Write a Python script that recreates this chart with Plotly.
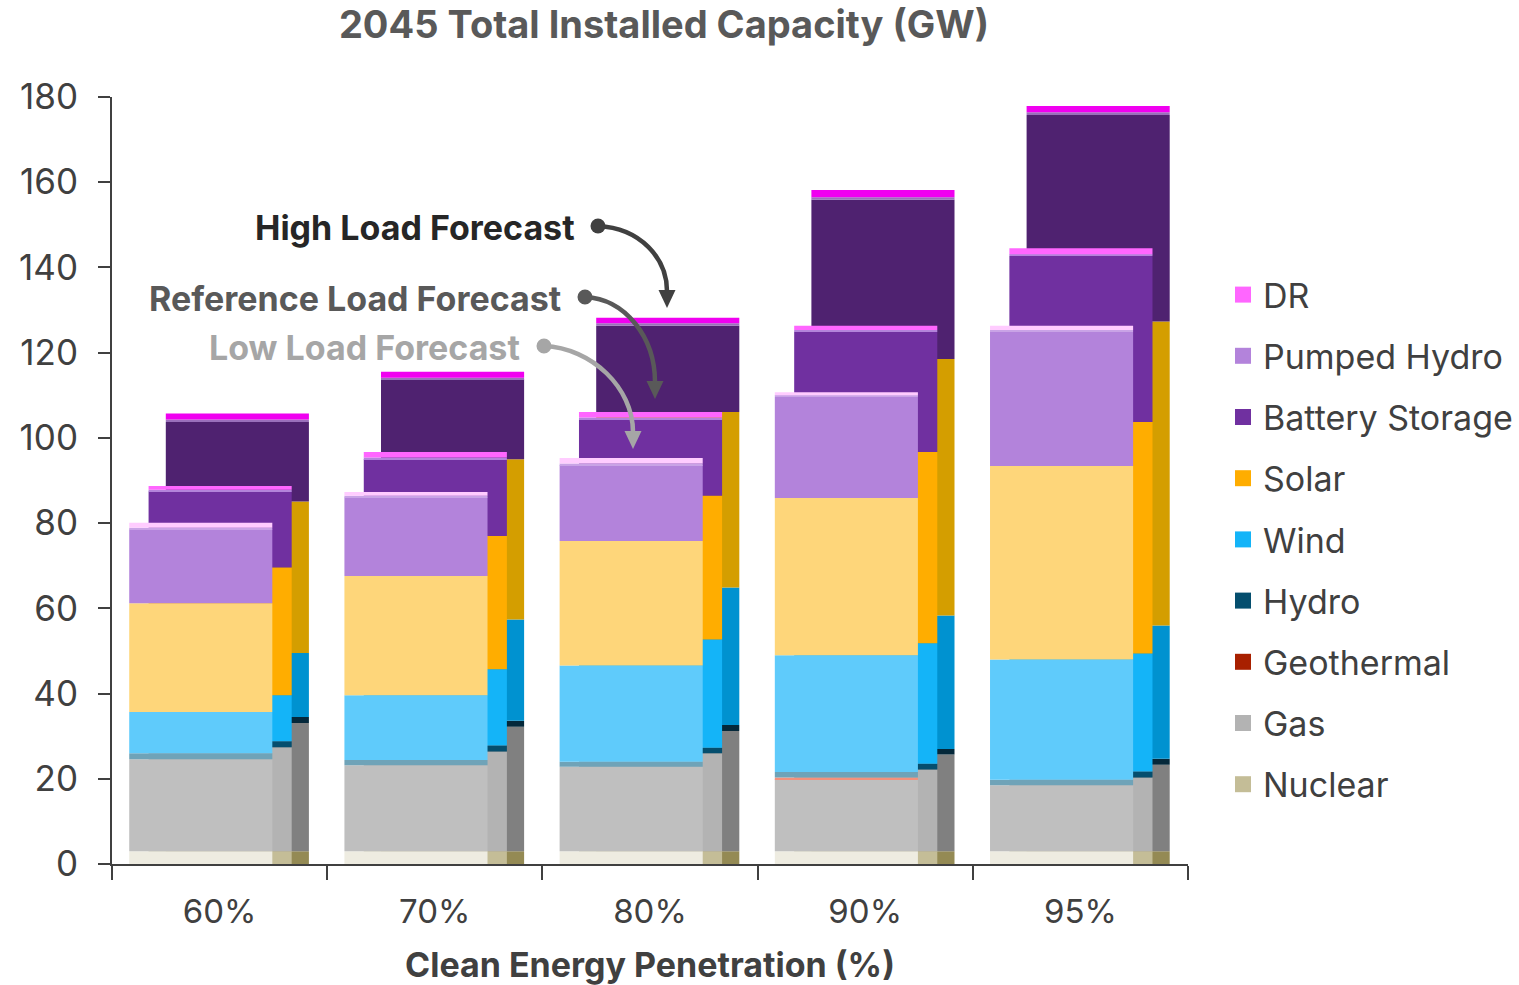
import plotly.graph_objects as go

categories = ["60%", "70%", "80%", "90%", "95%"]
x_pos = [0, 1, 2, 3, 4]
y_ticks = [0, 20, 40, 60, 80, 100, 120, 140, 160, 180]

# ---- Low load forecast (GW) ----
nuclear_low = [3.0, 3.0, 3.0, 3.0, 3.0]
gas_low = [21.6, 20.2, 19.8, 16.9, 15.5]
geothermal_low = [0.0, 0.0, 0.0, 0.4, 0.0]
hydro_low = [1.4, 1.2, 1.2, 1.3, 1.3]
wind_low = [9.7, 15.2, 22.6, 27.4, 28.2]
solar_low = [25.5, 28.0, 29.2, 36.9, 45.4]
battery_low = [17.3, 18.4, 17.8, 23.7, 31.5]
pumped_low = [0.4, 0.4, 0.4, 0.4, 0.4]
dr_low = [1.2, 0.9, 1.3, 0.7, 1.0]

# ---- Reference load forecast (GW) ----
nuclear_ref = [3.0, 3.0, 3.0, 3.0, 3.0]
gas_ref = [24.4, 23.4, 23.0, 19.2, 17.3]
geothermal_ref = [0.0, 0.0, 0.0, 0.0, 0.0]
hydro_ref = [1.4, 1.4, 1.3, 1.3, 1.4]
wind_ref = [10.8, 17.9, 25.4, 28.3, 27.7]
solar_ref = [30.0, 31.3, 33.7, 44.9, 54.3]
battery_ref = [17.8, 18.0, 18.0, 28.2, 39.0]
pumped_ref = [0.4, 0.4, 0.4, 0.4, 0.4]
dr_ref = [0.9, 1.3, 1.3, 1.0, 1.4]

# ---- High load forecast (GW) ----
nuclear_high = [3.0, 3.0, 3.0, 3.0, 3.0]
gas_high = [30.1, 29.2, 28.2, 22.7, 20.3]
geothermal_high = [0.0, 0.0, 0.0, 0.0, 0.0]
hydro_high = [1.4, 1.4, 1.4, 1.3, 1.4]
wind_high = [15.0, 23.8, 32.3, 31.3, 31.3]
solar_high = [35.6, 37.6, 41.2, 60.2, 71.3]
battery_high = [18.6, 18.7, 20.2, 37.4, 48.5]
pumped_high = [0.6, 0.4, 0.6, 0.6, 0.6]
dr_high = [1.4, 1.4, 1.3, 1.7, 1.5]

techs = ["Nuclear", "Gas", "Geothermal", "Hydro", "Wind", "Solar",
         "Battery Storage", "Pumped Hydro", "DR"]

loads = {
    "High": [nuclear_high, gas_high, geothermal_high, hydro_high, wind_high,
             solar_high, battery_high, pumped_high, dr_high],
    "Reference": [nuclear_ref, gas_ref, geothermal_ref, hydro_ref, wind_ref,
                  solar_ref, battery_ref, pumped_ref, dr_ref],
    "Low": [nuclear_low, gas_low, geothermal_low, hydro_low, wind_low,
            solar_low, battery_low, pumped_low, dr_low],
}

colors = {
    "Low": ["#eeece1", "#bfbfbf", "#f4917c", "#6fa3b8", "#5fcbfb", "#fed67a",
            "#b383db", "#c9a3e6", "#ffccff"],
    "Reference": ["#c4bd97", "#b3b3b3", "#a82000", "#054e6e", "#14b4f8", "#ffad00",
                  "#7030a0", "#b383db", "#ff66ff"],
    "High": ["#948a54", "#808080", "#7a1500", "#04283a", "#0092d0", "#d49e00",
             "#4f2270", "#9a70bb", "#f000f0"],
}
legend_colors = dict(zip(techs, colors["Reference"]))

offsets = {"High": -0.25, "Reference": -0.33, "Low": -0.42}
bar_width = 0.665

fig = go.Figure()

for load in ["High", "Reference", "Low"]:
    series = loads[load]
    base = [0.0] * len(categories)
    for tech, vals, col in zip(techs, series, colors[load]):
        fig.add_trace(go.Bar(
            x=x_pos, y=vals, base=base[:],
            offset=offsets[load], width=bar_width,
            marker=dict(color=col, line=dict(width=0)),
            name=f"{tech} ({load})", showlegend=False,
            hovertemplate=f"{load} – {tech}: %{{y}} GW<extra></extra>",
        ))
        base = [b + v for b, v in zip(base, vals)]

# legend entries
for tech in reversed(techs):
    fig.add_trace(go.Scatter(
        x=[None], y=[None], mode="markers", name=tech,
        marker=dict(symbol="square", size=20, color=legend_colors[tech]),
        legendgroup=tech, showlegend=True,
    ))

# ---- layout constants ----
W, H = 1519, 985
ml, mr, mt, mb = 112, 331, 97, 121
xr = [-0.5, 4.5]
yr = [0, 180]
pw = W - ml - mr
ph = H - mt - mb


def d(px, py):
    x = xr[0] + (px - ml) / pw * (xr[1] - xr[0])
    y = yr[0] + (H - mb - py) / ph * (yr[1] - yr[0])
    return x, y


shapes = []
annos = []
font_family = "Inter, Open Sans, sans-serif"

callouts = [
    ("High Load Forecast", "#262626", "#404040", (577, 227), (598, 226),
     (640, 228), (667, 258), (667, 291), (667, 308)),
    ("Reference Load Forecast", "#595959", "#595959", (563, 298), (585, 297),
     (626, 299), (655, 338), (655, 382), (655, 399)),
    ("Low Load Forecast", "#a6a6a6", "#a6a6a6", (522, 347), (544, 346),
     (592, 348), (633, 388), (633, 432), (633, 449)),
]
for text, tcol, acol, tpos, dot, c1, c2, end, tip in callouts:
    tx, ty = d(*tpos)
    annos.append(dict(x=tx, y=ty, xref="x", yref="y", text=f"<b>{text}</b>",
                      showarrow=False, xanchor="right", yanchor="middle",
                      font=dict(size=34, color=tcol, family=font_family)))
    p0, p1, p2, p3 = d(*dot), d(*c1), d(*c2), d(*end)
    shapes.append(dict(type="path", xref="x", yref="y",
                       path=f"M {p0[0]},{p0[1]} C {p1[0]},{p1[1]} {p2[0]},{p2[1]} {p3[0]},{p3[1]}",
                       line=dict(color=acol, width=4.5)))
    r = 7.5
    a0, a1 = d(dot[0] - r, dot[1] + r), d(dot[0] + r, dot[1] - r)
    shapes.append(dict(type="circle", xref="x", yref="y", x0=a0[0], y0=a0[1],
                       x1=a1[0], y1=a1[1], fillcolor=acol, line=dict(width=0)))
    t = d(*tip)
    bl = d(tip[0] - 8.5, tip[1] - 18)
    br = d(tip[0] + 8.5, tip[1] - 18)
    shapes.append(dict(type="path", xref="x", yref="y",
                       path=f"M {bl[0]},{bl[1]} L {t[0]},{t[1]} L {br[0]},{br[1]} Z",
                       fillcolor=acol, line=dict(width=0)))

fig.update_layout(
    width=W, height=H,
    margin=dict(l=ml, r=mr, t=mt, b=mb, autoexpand=False),
    barmode="overlay",
    plot_bgcolor="white", paper_bgcolor="white",
    font=dict(family=font_family, color="#404040", size=30),
    title=dict(text="<b>2045 Total Installed Capacity (GW)</b>",
               x=664 / W, xanchor="center", y=1 - 25 / H, yanchor="middle",
               font=dict(size=38, color="#595959", family=font_family)),
    legend=dict(x=(1223 - ml) / pw, xanchor="left", y=(H - mb - 266) / ph, yanchor="top",
                font=dict(size=34, color="#404040", family=font_family),
                tracegroupgap=14, traceorder="grouped", itemsizing="trace"),
    shapes=shapes,
    annotations=annos,
)

fig.update_xaxes(
    range=xr, tickmode="array", tickvals=x_pos, ticktext=categories,
    ticks="", showgrid=False, zeroline=False,
    showline=True, linecolor="#404040", linewidth=2,
    tickfont=dict(size=33, color="#404040"),
    ticklabelstandoff=17,
    minor=dict(tickmode="linear", tick0=-0.5, dtick=1, ticks="outside", ticklen=14,
               tickwidth=2, tickcolor="#404040", showgrid=False),
    title=dict(text="<b>Clean Energy Penetration (%)</b>", standoff=25,
               font=dict(size=34, color="#404040")),
    automargin=False,
    fixedrange=True,
)
fig.update_yaxes(
    range=yr, tickmode="array", tickvals=y_ticks,
    ticks="outside", ticklen=12, tickwidth=2, tickcolor="#404040",
    showgrid=False, zeroline=False,
    showline=True, linecolor="#404040", linewidth=2,
    tickfont=dict(size=35, color="#404040"),
    ticklabelstandoff=13,
    automargin=False,
    fixedrange=True,
)

fig.write_html("out.html")
